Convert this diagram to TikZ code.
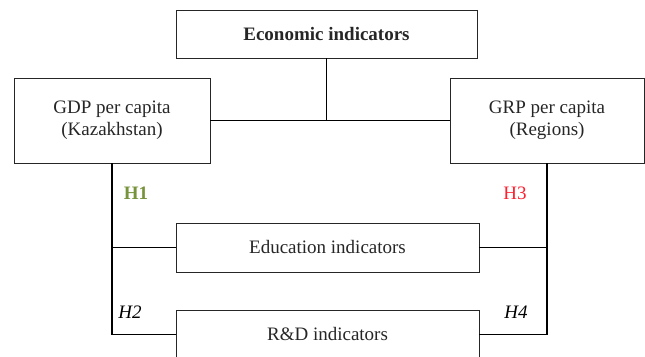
\documentclass[tikz,border=0pt]{standalone}
\usepackage{fontspec}
\setmainfont{Liberation Serif}
\usetikzlibrary{calc}
\definecolor{hgreen}{HTML}{77933C}
\definecolor{hred}{HTML}{FF1F2F}
\newcommand{\diagfont}{\fontsize{19}{22}\selectfont}
\tikzstyle{wb} = [rectangle, 
                      draw=black!85,
                      line width=0.9pt,
                      inner sep=2pt,
                      align=center,
                      text=black!85,
                      font=\diagfont,
                      text centered]
\tikzstyle{hl} = [inner sep=0pt, 
                      font=\diagfont]
\tikzstyle{ln} = [line width=1.2pt, 
                      draw=black]

\begin{document}
\begin{tikzpicture}[x=1pt,y=1pt]
     \useasboundingbox (0,0) rectangle (645,356);
     \clip (0,0) rectangle (645,356);
     % boxes
     \node [wb, minimum width=301pt, minimum height=48pt, font=\diagfont\bfseries] (econ) at (326.5,322) {Economic indicators};
     \node [wb, minimum width=196pt, minimum height=85pt] (gdp) at (112,235.5) {GDP per capita\\(Kazakhstan)};
     \node [wb, minimum width=194pt, minimum height=85pt] (grp) at (547,235.5) {GRP per capita\\(Regions)};
     \node [wb, minimum width=303pt, minimum height=49pt] (edu) at (327.5,108.5) {Education indicators};
     \node [wb, minimum width=303pt, minimum height=49pt] (rd) at (327.5,21.5) {R\&D indicators};
     % connectors
     \draw [ln] (econ.south) -- (econ.south |- gdp.east);
     \draw [ln] (gdp.east) -- (grp.west);
     \draw [ln] (gdp.south) |- (rd.west);
     \draw [ln] (gdp.south |- edu.west) -- (edu.west);
     \draw [ln] (grp.south) |- (rd.east);
     \draw [ln] (grp.south |- edu.east) -- (edu.east);
     % hypotheses
     \node [hl, text=hgreen, font=\diagfont\bfseries] (h1) at (136,163) {H1};
     \node [hl, text=hred] (h3) at (515,163) {H3};
     \node [hl, font=\diagfont\itshape] (h2) at (130,44) {H2};
     \node [hl, font=\diagfont\itshape] (h4) at (516,44) {H4};
\end{tikzpicture}
\end{document}
